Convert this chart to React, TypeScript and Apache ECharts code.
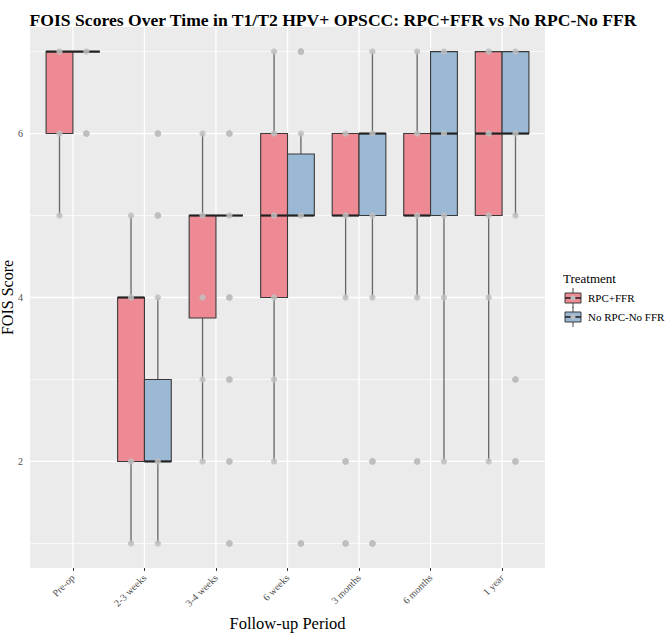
import React, { useEffect, useRef } from "react";
import * as echarts from "echarts";

const categories = ["Pre-op", "2-3 weeks", "3-4 weeks", "6 weeks", "3 months", "6 months", "1 year"];
const treatments = ["RPC+FFR", "No RPC-No FFR"];
const yTickLabels = [2, 4, 6];
const yMinorLines = [1, 3, 5, 7];

// [lower whisker, Q1, median, Q3, upper whisker] per category
const rpcFfrBox = [
  [5, 6, 7, 7, 7],
  [1, 2, 4, 4, 5],
  [2, 3.75, 5, 5, 6],
  [2, 4, 5, 6, 7],
  [4, 5, 5, 6, 6],
  [4, 5, 5, 6, 7],
  [2, 5, 6, 7, 7],
];
const noRpcBox = [
  [7, 7, 7, 7, 7],
  [1, 2, 2, 3, 4],
  [5, 5, 5, 5, 5],
  [5, 5, 5, 5.75, 6],
  [4, 5, 6, 6, 7],
  [2, 5, 6, 7, 7],
  [5, 6, 6, 7, 7],
];
// observed (jittered) scores per category
const rpcFfrPoints = [
  [7, 6, 5],
  [5, 4, 2, 1],
  [6, 5, 4, 3, 2],
  [7, 6, 5, 4, 3, 2],
  [6, 5, 4, 2, 1],
  [7, 6, 5, 4, 2],
  [7, 6, 5, 4, 2],
];
const noRpcPoints = [
  [7, 6],
  [6, 5, 4, 2, 1],
  [6, 5, 4, 3, 2, 1],
  [7, 6, 5, 1],
  [7, 6, 5, 4, 2, 1],
  [7, 6, 5, 4, 2],
  [7, 6, 5, 3, 2],
];
// boxplot outliers per category
const rpcFfrOutliers = [[], [], [], [], [2, 1], [2], []];
const noRpcOutliers = [[6], [6, 5], [6, 4, 3, 2, 1], [7, 1], [2, 1], [], [3, 2]];

const FILLS = ["#EE8A93", "#9BB9D5"];
const DODGE = [-0.1875, 0.1875];
const HALF = 0.1875;
const FONT = '"Liberation Serif", "Times New Roman", serif';

export default function App() {
  const ref = useRef<HTMLDivElement>(null);
  useEffect(() => {
    document.body.style.margin = "0";
    const chart = echarts.init(ref.current!, null, { renderer: "svg" });

    const boxes = [rpcFfrBox, noRpcBox];
    const pts = [rpcFfrPoints, noRpcPoints];
    const outs = [rpcFfrOutliers, noRpcOutliers];

    const gridData: number[][] = [];
    yTickLabels.forEach((v) => gridData.push([0, v, 1]));
    yMinorLines.forEach((v) => gridData.push([0, v, 0]));
    categories.forEach((_, i) => gridData.push([1, i, 1]));

    const boxSeries = treatments.map((name, g) => ({
      type: "custom",
      name,
      z: 3,
      silent: true,
      data: boxes[g].map((b, i) => [i, ...b]),
      renderItem: (params: any, api: any) => {
        const cx = api.value(0) + DODGE[g];
        const lo = api.value(1), q1 = api.value(2), med = api.value(3), q3 = api.value(4), hi = api.value(5);
        const tl = api.coord([cx - HALF, q3]);
        const br = api.coord([cx + HALF, q1]);
        const c = api.coord([cx, med]);
        const pHi = api.coord([cx, hi]);
        const pLo = api.coord([cx, lo]);
        return {
          type: "group",
          children: [
            { type: "line", shape: { x1: c[0], y1: tl[1], x2: c[0], y2: pHi[1] }, style: { stroke: "#666", lineWidth: 1.3 } },
            { type: "line", shape: { x1: c[0], y1: br[1], x2: c[0], y2: pLo[1] }, style: { stroke: "#666", lineWidth: 1.3 } },
            { type: "rect", shape: { x: tl[0], y: tl[1], width: br[0] - tl[0], height: br[1] - tl[1] }, style: { fill: FILLS[g], stroke: "#3a3a3a", lineWidth: 1.1 } },
            { type: "line", shape: { x1: tl[0], y1: c[1], x2: br[0], y2: c[1] }, style: { stroke: "#222", lineWidth: 2.2 } },
          ],
        };
      },
    }));

    const outlierSeries = treatments.map((name, g) => ({
      type: "scatter",
      name: name + " outliers",
      z: 4,
      silent: true,
      symbolSize: 6.5,
      itemStyle: { color: "#A9A9A9" },
      data: outs[g].flatMap((vals, i) => vals.map((v) => [i + DODGE[g], v])),
    }));

    const pointSeries = treatments.map((name, g) => ({
      type: "scatter",
      name: name + " points",
      z: 5,
      silent: true,
      symbolSize: 6.3,
      itemStyle: { color: "#C0C0C0", opacity: 0.85 },
      data: pts[g].flatMap((vals, i) => vals.map((v) => [i + DODGE[g], v])),
    }));

    const legendKey = (y: number, fill: string) => ({
      type: "group",
      children: [
        { type: "line", shape: { x1: 573, y1: y - 10, x2: 573, y2: y + 10 }, style: { stroke: "#666", lineWidth: 1.2 } },
        { type: "rect", shape: { x: 565, y: y - 5, width: 16, height: 10 }, style: { fill, stroke: "#3a3a3a", lineWidth: 1 } },
        { type: "line", shape: { x1: 565, y1: y, x2: 581, y2: y }, style: { stroke: "#222", lineWidth: 1.6 } },
        { type: "circle", shape: { cx: 573, cy: y, r: 2.5 }, style: { fill: "#BDBDBD" } },
      ],
    });

    const option: any = {
      animation: false,
      textStyle: { fontFamily: FONT },
      title: {
        text: "FOIS Scores Over Time in T1/T2 HPV+ OPSCC: RPC+FFR vs No RPC-No FFR",
        left: "center",
        top: 6,
        textStyle: { fontFamily: FONT, fontWeight: "bold", fontSize: 17.6, color: "#000" },
      },
      grid: {
        left: 30,
        right: 121,
        top: 27,
        bottom: 65,
        containLabel: false,
        outerBoundsMode: "none",
        show: true,
        backgroundColor: "#EBEBEB",
        borderWidth: 0,
      },
      xAxis: {
        type: "value",
        min: -0.6,
        max: 6.6,
        name: "Follow-up Period",
        nameLocation: "middle",
        nameGap: 47,
        nameMoveOverlap: false,
        nameTextStyle: { fontFamily: FONT, fontSize: 16.5, color: "#000" },
        axisLine: { show: false },
        splitLine: { show: false },
        axisTick: { show: true, customValues: categories.map((_, i) => i), length: 3, lineStyle: { color: "#333" } },
        axisLabel: {
          customValues: categories.map((_, i) => i),
          formatter: (v: number) => categories[Math.round(v)] ?? "",
          rotate: 45,
          margin: 8,
          fontSize: 10,
          color: "#4D4D4D",
          fontFamily: FONT,
        },
      },
      yAxis: {
        type: "value",
        min: 0.7,
        max: 7.3,
        name: "FOIS Score",
        nameLocation: "middle",
        nameGap: 15,
        nameMoveOverlap: false,
        nameRotate: 90,
        nameTextStyle: { fontFamily: FONT, fontSize: 16, color: "#000" },
        axisLine: { show: false },
        splitLine: { show: false },
        axisTick: { show: true, customValues: yTickLabels, length: 3, lineStyle: { color: "#333" } },
        axisLabel: { customValues: yTickLabels, margin: 7, fontSize: 10, color: "#4D4D4D", fontFamily: FONT },
      },
      series: [
        {
          type: "custom",
          name: "grid",
          z: 1,
          silent: true,
          data: gridData,
          renderItem: (params: any, api: any) => {
            const cs = params.coordSys;
            const kind = api.value(0), v = api.value(1), major = api.value(2);
            if (kind === 0) {
              const y = api.coord([0, v])[1];
              return { type: "line", shape: { x1: cs.x, y1: y, x2: cs.x + cs.width, y2: y }, style: { stroke: "#fff", lineWidth: major ? 1.3 : 0.7 } };
            }
            const x = api.coord([v, 1])[0];
            return { type: "line", shape: { x1: x, y1: cs.y, x2: x, y2: cs.y + cs.height }, style: { stroke: "#fff", lineWidth: 1.3 } };
          },
        },
        ...boxSeries,
        ...outlierSeries,
        ...pointSeries,
      ],
      graphic: [
        { type: "text", x: 563, y: 278, style: { text: "Treatment", fontSize: 13, fontFamily: FONT, fill: "#000", verticalAlign: "middle" } },
        legendKey(298, FILLS[0]),
        legendKey(317, FILLS[1]),
        { type: "text", x: 588, y: 298, style: { text: treatments[0], fontSize: 11, fontFamily: FONT, fill: "#000", verticalAlign: "middle" } },
        { type: "text", x: 588, y: 317, style: { text: treatments[1], fontSize: 11, fontFamily: FONT, fill: "#000", verticalAlign: "middle" } },
      ],
    };
    chart.setOption(option);
    return () => chart.dispose();
  }, []);
  return <div ref={ref} style={{ width: 666, height: 633 }} />;
}
